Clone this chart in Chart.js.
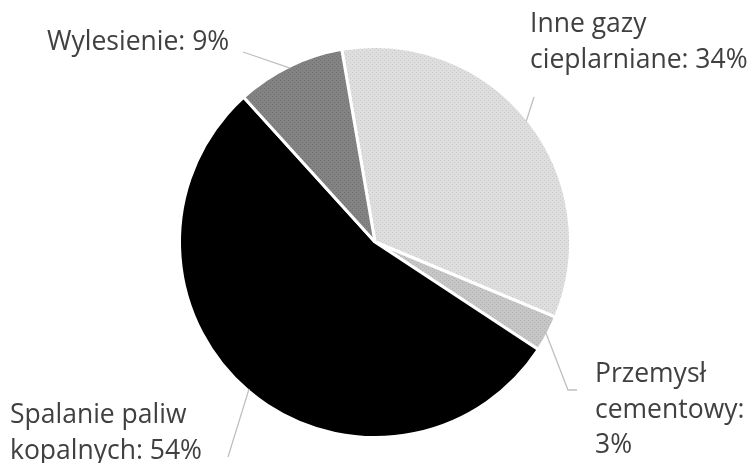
<!DOCTYPE html>
<html>
<head>
<meta charset="utf-8">
<script src="https://cdn.jsdelivr.net/npm/chart.js@4"></script>
<style>
  html, body { margin: 0; padding: 0; background: #fff; }
  #wrap { width: 750px; height: 463px; }
</style>
</head>
<body>
<div id="wrap"><canvas id="pie" width="750" height="463"></canvas></div>
<script>
const labels = ["Inne gazy cieplarniane", "Przemysł cementowy", "Spalanie paliw kopalnych", "Wylesienie"];
const shares = [34, 3, 54, 9];
// how each label is wrapped in the picture
const labelLines = [
  ["Inne gazy", "cieplarniane: 34%"],
  ["Przemysł", "cementowy:", "3%"],
  ["Spalanie paliw", "kopalnych: 54%"],
  ["Wylesienie: 9%"]
];

// dotted grey fill like the office "pattern" fills
function dots(base, dot) {
  const c = document.createElement("canvas");
  c.width = 4; c.height = 4;
  const g = c.getContext("2d");
  g.fillStyle = base;
  g.fillRect(0, 0, 4, 4);
  g.fillStyle = dot;
  g.fillRect(0, 0, 1, 1);
  g.fillRect(2, 2, 1, 1);
  return g.createPattern(c, "repeat");
}
const ctx0 = document.getElementById("pie").getContext("2d");
const fills = [
  dots("#dedede", "#c9c9c9"),
  dots("#c6c6c6", "#b0b0b0"),
  "#000000",
  dots("#838383", "#707070")
];

// where the texts sit and where each leader line ends
const labelPos = [
  { x: 530, y: 32, lineEnd: [534, 97] },
  { x: 595, y: 382, lineEnd: [568, 390], elbow: [577, 390] },
  { x: 10, y: 423, lineEnd: [228, 457] },
  { x: 47, y: 50, lineEnd: [243, 52] }
];

const labelPlugin = {
  id: "outerLabels",
  afterDatasetsDraw(chart) {
    const ctx = chart.ctx;
    const meta = chart.getDatasetMeta(0);
    ctx.save();
    meta.data.forEach((arc, i) => {
      const p = arc.getProps(["x", "y", "startAngle", "endAngle", "outerRadius"], true);
      const mid = (p.startAngle + p.endAngle) / 2;
      const r = p.outerRadius - 2;
      const sx = p.x + Math.cos(mid) * r;
      const sy = p.y + Math.sin(mid) * r;
      const lp = labelPos[i];
      ctx.strokeStyle = "#bfbfbf";
      ctx.lineWidth = 1.3;
      ctx.beginPath();
      ctx.moveTo(sx, sy);
      ctx.lineTo(lp.lineEnd[0], lp.lineEnd[1]);
      if (lp.elbow) ctx.lineTo(lp.elbow[0], lp.elbow[1]);
      ctx.stroke();

      ctx.fillStyle = "#404040";
      ctx.font = "26.5px 'Open Sans', sans-serif";
      ctx.textAlign = "left";
      ctx.textBaseline = "alphabetic";
      labelLines[i].forEach((t, k) => {
        ctx.fillText(t, lp.x, lp.y + k * 35.5);
      });
    });
    ctx.restore();
  }
};

new Chart(ctx0, {
  type: "pie",
  data: {
    labels: labels,
    datasets: [{
      data: shares,
      backgroundColor: fills,
      borderColor: "#ffffff",
      borderWidth: 3
    }]
  },
  options: {
    responsive: false,
    animation: false,
    rotation: -9.8,
    layout: { padding: { top: 44, bottom: 23, left: 178, right: 178 } },
    plugins: {
      legend: { display: false },
      tooltip: { enabled: false }
    }
  },
  plugins: [labelPlugin]
});
</script>
</body>
</html>
